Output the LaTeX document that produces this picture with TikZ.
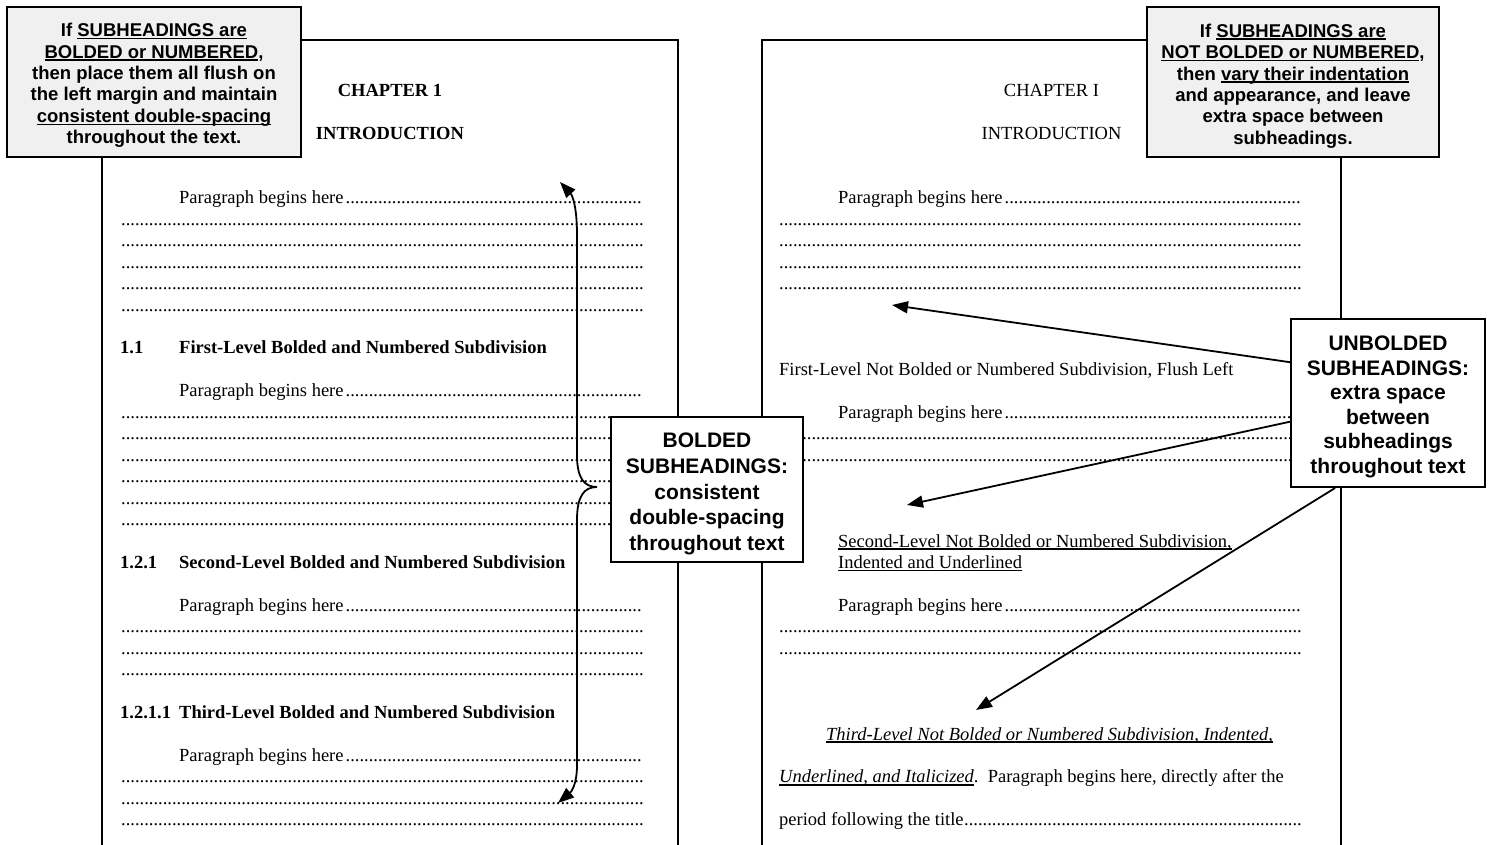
\documentclass[tikz,border=0pt]{standalone}
\usepackage{fontspec}
\setmainfont{Liberation Serif}
\setsansfont{Liberation Sans}
\usetikzlibrary{arrows.meta,calc}
\definecolor{calloutgray}{HTML}{F0F0F0}
\newsavebox\ulbox
\newcommand\ulx[1]{\sbox\ulbox{#1}\rlap{\rule[-0.14em]{\wd\ulbox}{0.07em}}\usebox\ulbox}
\newcommand\ry[1]{203.8+21.45*(#1)}
\newcommand\dotsto[1]{\hbox to #1pt{\leaders\hbox{.}\hfill}}
\newcommand\parato[1]{\hbox to #1pt{Paragraph begins here\hskip1.5pt\leaders\hbox{.}\hfill}}
\begin{document}
\begin{tikzpicture}[x=1pt,y=-1pt,
  pageframe/.style={line width=2.6pt},
  txt/.style={anchor=base west, inner sep=0pt, font=\fontsize{18.5}{21.45}\selectfont},
  ctr/.style={anchor=base, inner sep=0pt, font=\fontsize{18.5}{21.45}\selectfont},
  boxA/.style={draw, line width=2pt, fill=calloutgray, inner sep=0pt},
  boxB/.style={draw, line width=2pt, fill=white, inner sep=0pt},
  textA/.style={align=center, inner sep=0pt, font=\sffamily\bfseries\fontsize{18.5}{21.45}\selectfont},
  textB/.style={align=center, inner sep=0pt, font=\sffamily\bfseries\fontsize{21}{25.8}\selectfont},
  arr/.style={line width=1.8pt, -{Triangle[length=16pt,width=12pt]}},
  brace/.style={line width=1.8pt, {Triangle[length=16pt,width=12pt]}-{Triangle[length=16pt,width=12pt]}}
]
\useasboundingbox (0,0) rectangle (1491,844);
\clip (0,0) rectangle (1491,844);

% pages
\draw[pageframe] (102,860) -- (102,40) -- (678,40) -- (678,860);
\draw[pageframe] (762,860) -- (762,40) -- (1341,40) -- (1341,860);

% left page
\node[ctr, font=\bfseries\fontsize{18.5}{21.45}\selectfont] (lch) at (390,96) {CHAPTER 1};
\node[ctr, font=\bfseries\fontsize{18.5}{21.45}\selectfont] (lin) at (390,139) {INTRODUCTION};
\foreach \k in {0,9,19,26}{
  \node[txt] (lp\k) at (179,{\ry{\k}}) {\parato{465}};
}
\foreach \k in {1,2,3,4,5,10,11,12,13,14,15,20,21,22,27,28,29}{
  \node[txt] (ld\k) at (121,{\ry{\k}}) {\dotsto{523}};
}
\node[txt, font=\bfseries\fontsize{18.5}{21.45}\selectfont] (ln1) at (120,{\ry{7}}) {1.1};
\node[txt, font=\bfseries\fontsize{18.5}{21.45}\selectfont] (lh1) at (179,{\ry{7}}) {First-Level Bolded and Numbered Subdivision};
\node[txt, font=\bfseries\fontsize{18.5}{21.45}\selectfont] (ln2) at (120,{\ry{17}}) {1.2.1};
\node[txt, font=\bfseries\fontsize{18.5}{21.45}\selectfont] (lh2) at (179,{\ry{17}}) {Second-Level Bolded and Numbered Subdivision};
\node[txt, font=\bfseries\fontsize{18.5}{21.45}\selectfont] (ln3) at (120,{\ry{24}}) {1.2.1.1};
\node[txt, font=\bfseries\fontsize{18.5}{21.45}\selectfont] (lh3) at (179,{\ry{24}}) {Third-Level Bolded and Numbered Subdivision};

% right page
\node[ctr] (rch) at (1051.5,96) {CHAPTER I};
\node[ctr] (rin) at (1051.5,139) {INTRODUCTION};
\foreach \k in {0,10,19}{
  \node[txt] (rp\k) at (838,{\ry{\k}}) {\hbox to 464pt{Paragraph begins here\leaders\hbox{.}\hfill}};
}
\foreach \k in {1,2,3,4,11,12,20,21}{
  \node[txt] (rd\k) at (779,{\ry{\k}}) {\dotsto{523}};
}
\node[txt] (rh1) at (779,{\ry{8}}) {First-Level Not Bolded or Numbered Subdivision, Flush Left};
\node[txt] (rh2a) at (838,{\ry{16}}) {\ulx{Second-Level Not Bolded or Numbered Subdivision,}};
\node[txt] (rh2b) at (838,{\ry{17}}) {\ulx{Indented and Underlined}};
\node[txt] (rh3) at (826,{\ry{25}}) {\ulx{\itshape Third-Level Not Bolded or Numbered Subdivision, Indented,}};
\node[txt] (rt1) at (779,{\ry{27}}) {\ulx{\itshape Underlined, and Italicized}.\ \ Paragraph begins here, directly after the};
\node[txt] (rt2) at (779,{\ry{29}}) {\hbox to 523pt{period following the title\leaders\hbox{.}\hfill}};

% brace with arrows (left page)
\coordinate (btop) at (560,182);
\coordinate (btip) at (597,487);
\coordinate (bbot) at (558,803);
\draw[brace] (btop) .. controls (572,195) and (577,205) .. (577,235)
  -- (577,455) .. controls (577,478) and (584,487) .. (btip)
  .. controls (584,487) and (577,496) .. (577,520)
  -- (577,765) .. controls (577,785) and (571,792) .. (bbot);

% callouts
\node[boxA, minimum width=294pt, minimum height=150pt] (cl) at (154,82) {};
\node[textA] (clt) at ($(cl.center)+(0,3.5)$)
  {If \ulx{SUBHEADINGS are}\\ \ulx{BOLDED or NUMBERED},\\ then place them all flush on\\ the left margin and maintain\\ \ulx{consistent double-spacing}\\ throughout the text.};
\node[boxA, minimum width=292pt, minimum height=150pt] (cr) at (1293,82) {};
\node[textA] (crt) at ($(cr.center)+(0,4)$)
  {If \ulx{SUBHEADINGS are}\\ \ulx{NOT BOLDED or NUMBERED},\\ then \ulx{vary their indentation}\\ and appearance, and leave\\ extra space between\\ subheadings.};
\node[boxB, minimum width=192pt, minimum height=145pt] (cb) at (707,489.5) {};
\node[textB] (cbt) at ($(cb.center)+(0,4.5)$)
  {BOLDED\\ SUBHEADINGS:\\ consistent\\ double-spacing\\ throughout text};
\node[boxB, minimum width=194pt, minimum height=168pt] (cu) at (1388,403) {};
\node[textB, font=\sffamily\bfseries\fontsize{21}{24.5}\selectfont] (cut) at ($(cu.center)+(0,4)$)
  {UNBOLDED\\ SUBHEADINGS:\\ extra space\\ between\\ subheadings\\ throughout text};

% arrows from UNBOLDED callout
\coordinate (ta) at (892,305);
\coordinate (tb) at (907,505);
\coordinate (tc) at (976,710);
\draw[arr] ($(cu.north west)!0.26!(cu.south west)$) -- (ta);
\draw[arr] ($(cu.north west)!0.61!(cu.south west)$) -- (tb);
\draw[arr] ($(cu.south west)!0.23!(cu.south east)$) -- (tc);
\end{tikzpicture}
\end{document}
